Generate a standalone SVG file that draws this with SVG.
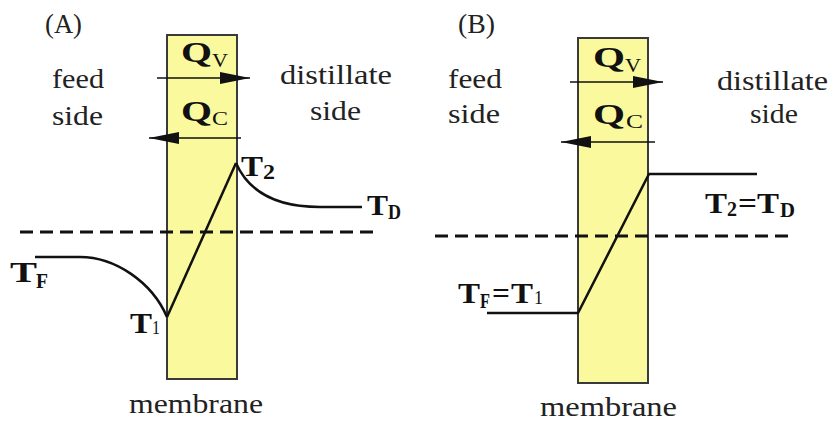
<svg xmlns="http://www.w3.org/2000/svg" width="830" height="423" viewBox="0 0 830 423">
<style>
.mem{fill:#fbf99e;stroke:#3a3a3a;stroke-width:2}
.ln{fill:none;stroke:#111;stroke-width:2.5}
.dash{fill:none;stroke:#111;stroke-width:3;stroke-dasharray:13 7}
.arr{fill:none;stroke:#111;stroke-width:1.5}
.t{font-family:"Liberation Serif","Times New Roman",serif;fill:#222;font-size:27px}
.b{font-family:"Liberation Serif","Times New Roman",serif;fill:#111;font-weight:bold;font-size:30px}
.s{font-family:"Liberation Serif","Times New Roman",serif;fill:#111;font-size:19px}
.sb{font-family:"Liberation Serif","Times New Roman",serif;fill:#111;font-weight:bold;font-size:20px}
</style>
<defs>
<marker id="ah" viewBox="0 0 30 12" refX="30" refY="6" markerWidth="30" markerHeight="12" markerUnits="userSpaceOnUse" orient="auto">
<path d="M0,0 L30,6 L0,12 Z" fill="#111"/>
</marker>
</defs>

<!-- Panel A -->
<g id="panelA-label"><text class="t" x="45" y="33" font-size="25" textLength="37" lengthAdjust="spacingAndGlyphs">(A)</text></g>
<g id="membraneA">
<rect class="mem" x="167" y="35" width="70" height="344"/>
<text class="t" x="129" y="413" font-size="30" textLength="134" lengthAdjust="spacingAndGlyphs">membrane</text>
</g>
<g id="feedA"><text class="t" x="52" y="88" textLength="52" lengthAdjust="spacingAndGlyphs">feed</text><text class="t" x="52" y="125" textLength="51" lengthAdjust="spacingAndGlyphs">side</text></g>
<g id="distA"><text class="t" x="280" y="84" textLength="112" lengthAdjust="spacingAndGlyphs">distillate</text><text class="t" x="310" y="120" textLength="51" lengthAdjust="spacingAndGlyphs">side</text></g>
<g id="QvA"><text class="b" x="181" y="62" textLength="31" lengthAdjust="spacingAndGlyphs">Q</text><text class="s" x="212" y="67" textLength="16" lengthAdjust="spacingAndGlyphs">V</text></g>
<g id="QcA"><text class="b" x="181" y="121" textLength="31" lengthAdjust="spacingAndGlyphs">Q</text><text class="s" x="212" y="125" textLength="16" lengthAdjust="spacingAndGlyphs">C</text></g>
<g id="T2A"><text class="b" x="241" y="176" textLength="22" lengthAdjust="spacingAndGlyphs">T</text><text class="sb" x="263" y="179" textLength="12" lengthAdjust="spacingAndGlyphs">2</text></g>
<g id="TDA"><text class="b" x="367" y="215" textLength="21" lengthAdjust="spacingAndGlyphs">T</text><text class="sb" x="388" y="219" textLength="13" lengthAdjust="spacingAndGlyphs">D</text></g>
<g id="TFA"><text class="b" x="10" y="282" textLength="27" lengthAdjust="spacingAndGlyphs">T</text><text class="sb" x="36" y="288" textLength="12" lengthAdjust="spacingAndGlyphs">F</text></g>
<g id="T1A"><text class="b" x="130" y="333" textLength="22" lengthAdjust="spacingAndGlyphs">T</text><text class="s" x="152" y="334" textLength="8" lengthAdjust="spacingAndGlyphs">1</text></g>

<!-- Panel B -->
<g id="panelB-label"><text class="t" x="458" y="33" font-size="25" textLength="37" lengthAdjust="spacingAndGlyphs">(B)</text></g>
<g id="membraneB">
<rect class="mem" x="578" y="38" width="70" height="345"/>
<text class="t" x="540" y="416" font-size="30" textLength="137" lengthAdjust="spacingAndGlyphs">membrane</text>
</g>
<g id="feedB"><text class="t" x="448" y="88" textLength="54" lengthAdjust="spacingAndGlyphs">feed</text><text class="t" x="448" y="123" textLength="52" lengthAdjust="spacingAndGlyphs">side</text></g>
<g id="distB"><text class="t" x="717" y="90" textLength="111" lengthAdjust="spacingAndGlyphs">distillate</text><text class="t" x="750" y="123" textLength="48" lengthAdjust="spacingAndGlyphs">side</text></g>
<g id="QvB"><text class="b" x="593" y="67" textLength="32" lengthAdjust="spacingAndGlyphs">Q</text><text class="s" x="625" y="72" textLength="16" lengthAdjust="spacingAndGlyphs">V</text></g>
<g id="QcB"><text class="b" x="593" y="124" textLength="32" lengthAdjust="spacingAndGlyphs">Q</text><text class="s" x="626" y="128" textLength="17" lengthAdjust="spacingAndGlyphs">C</text></g>
<g id="T2TDB"><text class="b" x="705" y="213" textLength="22" lengthAdjust="spacingAndGlyphs">T</text><text class="sb" x="727" y="216" textLength="10" lengthAdjust="spacingAndGlyphs">2</text><text class="b" x="738" y="213" textLength="19" lengthAdjust="spacingAndGlyphs">=</text><text class="b" x="757" y="213" textLength="22" lengthAdjust="spacingAndGlyphs">T</text><text class="sb" x="780" y="217" textLength="15" lengthAdjust="spacingAndGlyphs">D</text></g>
<g id="TFT1B"><text class="b" x="458" y="303" textLength="22" lengthAdjust="spacingAndGlyphs">T</text><text class="sb" x="480" y="308" textLength="10" lengthAdjust="spacingAndGlyphs">F</text><text class="b" x="492" y="303" textLength="18" lengthAdjust="spacingAndGlyphs">=</text><text class="b" x="511" y="303" textLength="22" lengthAdjust="spacingAndGlyphs">T</text><text class="s" x="534" y="304" textLength="9" lengthAdjust="spacingAndGlyphs">1</text></g>

<g id="connectors">
<line class="arr" x1="157" y1="78" x2="250" y2="78" marker-end="url(#ah)"/>
<line class="arr" x1="241" y1="138" x2="149" y2="138" marker-end="url(#ah)"/>
<line class="dash" x1="20" y1="232" x2="376" y2="232"/>
<path class="ln" d="M35,257 L80,257 C115,257 152,282 167,317"/>
<path class="ln" d="M167,317 L236,163"/>
<path class="ln" d="M236,163 C250,195 280,207 320,207 L362,207"/>

<line class="arr" x1="570" y1="82" x2="663" y2="82" marker-end="url(#ah)"/>
<line class="arr" x1="655" y1="142" x2="561" y2="142" marker-end="url(#ah)"/>
<line class="dash" x1="435" y1="236" x2="790" y2="236"/>
<path class="ln" d="M487,313 L578,313 L649,174 L757,174"/>
</g>
</svg>
